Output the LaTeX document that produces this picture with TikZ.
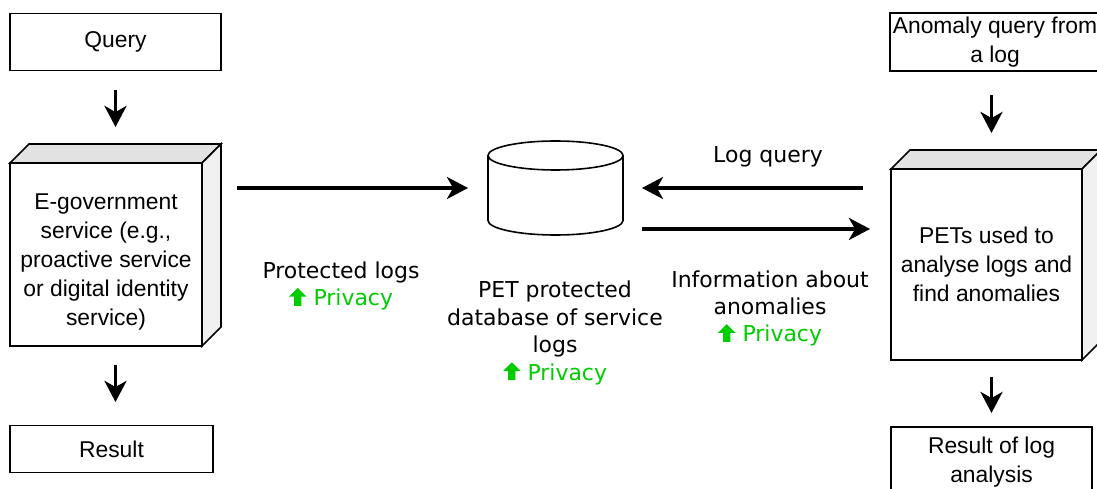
\documentclass[tikz,border=0pt]{standalone}
\usepackage{fontspec}
\setmainfont{Liberation Sans}
\newfontfamily\labelfont{DejaVu Sans}
\usetikzlibrary{arrows.meta,positioning}
\definecolor{privgreen}{RGB}{0,204,0}
\definecolor{cubetop}{RGB}{226,226,226}
\definecolor{cubeside}{RGB}{240,240,240}
\newcommand{\privarrow}{\tikz[baseline=0pt,x=1pt,y=1pt]\fill[privgreen] (2.9,0) -- (7.1,0) -- (7.1,5.2) -- (10,5.2) -- (5,10.2) -- (0,5.2) -- (2.9,5.2) -- cycle;}
\newcommand{\privacy}{{\color{privgreen}\privarrow\ Privacy}}
\begin{document}
\begin{tikzpicture}[x=0.02cm,y=-0.02cm,inner sep=0pt,outer sep=0pt,line width=0.9pt,
txtbox/.style={draw,rectangle,fill=white,align=center,font=\fontsize{13}{16.5}\selectfont},
lbl/.style={align=center,font=\labelfont\fontsize{12.5}{15.6}\selectfont},
flow/.style={-{Stealth[length=12pt,width=12.5pt,inset=3.5pt]},line width=2pt}]
\useasboundingbox (0,0) rectangle (1097,489);
% left column
\node[txtbox,minimum width=4.22cm,minimum height=1.14cm] (query) at (115.5,42) {Query};
\node[txtbox,minimum width=3.84cm,minimum height=3.66cm] (egov) at (106,254.5) {\rule{0pt}{17pt}E-government\\service (e.g.,\\proactive service\\or digital identity\\service)};
\filldraw[fill=cubetop] (egov.north west) -- ++(19,-19) -- ++(192,0) -- (egov.north east) -- cycle;
\filldraw[fill=cubeside] (egov.north east) -- ++(19,-19) -- ++(0,183) -- (egov.south east) -- cycle;
\node[txtbox,minimum width=4.06cm,minimum height=0.94cm] (result) at (111.5,449) {Result};
% database
\node[minimum width=2.7cm,minimum height=1.88cm] (db) at (555.5,188) {};
\draw (555.5,155.5) ellipse [x radius=67.5,y radius=14.5];
\draw (488,155.5) -- (488,220.5) arc[start angle=180,end angle=0,x radius=67.5,y radius=14.5] -- (623,155.5);
% right column
\node[txtbox,minimum width=4.2cm,minimum height=1.16cm] (rquery) at (995,42) {Anomaly query from\\a log};
\node[txtbox,minimum width=3.82cm,minimum height=3.82cm] (pets) at (986.5,264.5) {PETs used to\\analyse logs and\\find anomalies};
\filldraw[fill=cubetop] (pets.north west) -- ++(19,-19) -- ++(191,0) -- (pets.north east) -- cycle;
\filldraw[fill=cubeside] (pets.north east) -- ++(19,-19) -- ++(0,191) -- (pets.south east) -- cycle;
\node[txtbox,minimum width=4.02cm,minimum height=1.4cm] (rresult) at (991.5,462) {Result of log\\analysis};
% arrows
\draw[flow,shorten <=0.4cm,shorten >=0.72cm] (query.south) -- (query.south |- egov.north);
\draw[flow,shorten <=0.38cm,shorten >=0.47cm] (query.south |- egov.south) -- (query.south |- result.north);
\draw[flow,shorten <=0.7cm,shorten >=0.4cm] (egov.east |- db.west) -- (db.west);
\draw[flow,shorten <=0.56cm,shorten >=0.38cm] (pets.west |- db.east) -- (db.east);
\coordinate (infol) at ([yshift=-0.82cm]db.east);
\draw[flow,shorten <=0.38cm,shorten >=0.42cm] (infol) -- (infol -| pets.west);
\draw[flow,shorten <=0.48cm,shorten >=0.72cm] (rquery.south -| rresult.north) -- (pets.north -| rresult.north);
\draw[flow,shorten <=0.34cm,shorten >=0.28cm] (pets.south -| rresult.north) -- (rresult.north);
% labels
\node[lbl] (loglbl) at (768,157) {Log query};
\node[lbl] (protlbl) at (341,286) {Protected logs\\\privacy};
\node[lbl] (dblbl) at (555,333) {PET protected\\database of service\\logs\\\privacy};
\node[lbl] (infolbl) at (770,308.5) {Information about\\anomalies\\\privacy};
\end{tikzpicture}
\end{document}
